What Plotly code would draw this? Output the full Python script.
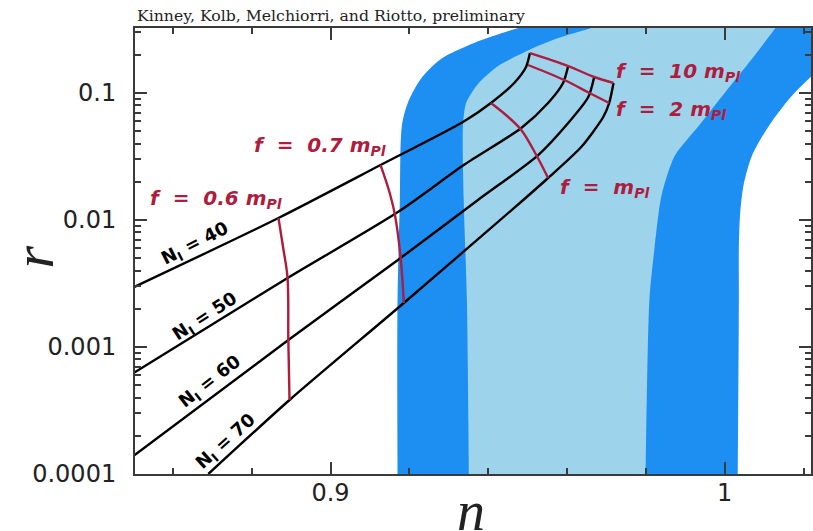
import plotly.graph_objects as go
import numpy as np

# ---------------- data ----------------
# 2-sigma (dark blue) allowed region boundary: left edge bottom->top, then right edge top->bottom
sig2_n = [0.9170, 0.9170, 0.9176, 0.9181, 0.9196, 0.9229, 0.9280, 0.9364, 0.9476, 0.9585,
          1.0374, 1.0298, 1.0229, 1.0170, 1.0112, 1.0069, 1.0048, 1.0039, 1.0036, 1.0036, 1.0033]
sig2_r = [0.00009, 0.00234, 0.01437, 0.0550, 0.0834, 0.1289, 0.1852, 0.2475, 0.3250, 0.40,
          0.40, 0.2182, 0.1437, 0.0947, 0.0550, 0.0319, 0.01886, 0.01095, 0.00602, 0.00234, 0.00009]
# 1-sigma (light blue) region boundary
sig1_n = [0.9351, 0.9346, 0.9338, 0.9336, 0.9344, 0.9374, 0.9425, 0.9509, 0.9578, 0.9662, 0.9751,
          1.0150, 1.0127, 1.0069, 1.0000, 0.9934, 0.9873, 0.9840, 0.9822, 0.9809, 0.9799]
sig1_r = [0.00009, 0.00234, 0.01437, 0.0550, 0.0834, 0.1177, 0.1632, 0.2221, 0.2711, 0.3250, 0.40,
          0.40, 0.3190, 0.1852, 0.1000, 0.0550, 0.0319, 0.01573, 0.00602, 0.00234, 0.00009]

# model trajectories for fixed number of e-folds N_I
N40_n = [0.8500, 0.8868, 0.9127, 0.9336, 0.9407, 0.9466, 0.9496, 0.9506]
N40_r = [0.00295, 0.01037, 0.02709, 0.0591, 0.08344, 0.1199, 0.1602, 0.2065]
N50_n = [0.8500, 0.8891, 0.9171, 0.9338, 0.9484, 0.9552, 0.9590, 0.9603]
N50_r = [0.000624, 0.003494, 0.01156, 0.02709, 0.0530, 0.08344, 0.1199, 0.1632]
N60_n = [0.8500, 0.8893, 0.9171, 0.9374, 0.9527, 0.9603, 0.9654, 0.9669]
N60_r = [0.0001386, 0.001135, 0.004842, 0.01437, 0.03249, 0.05805, 0.09301, 0.1337]
N70_n = [0.8690, 0.8896, 0.9186, 0.9489, 0.9552, 0.9636, 0.9692, 0.9707, 0.9718]
N70_r = [0.0001, 0.0003826, 0.002221, 0.01437, 0.02142, 0.03757, 0.06471, 0.08344, 0.1199]
N_labels = ["40", "50", "60", "70"]

# curves of fixed f
f06_n = [0.8868, 0.8880, 0.8891, 0.8893, 0.8896]
f06_r = [0.01037, 0.006018, 0.003494, 0.001135, 0.0003826]
f07_n = [0.9127, 0.9148, 0.9163, 0.9178, 0.9186]
f07_r = [0.02709, 0.01722, 0.01115, 0.005021, 0.002221]
f1_n = [0.9407, 0.9448, 0.9484, 0.9522, 0.9552]
f1_r = [0.08344, 0.0659, 0.05114, 0.03249, 0.02142]
f2_n = [0.9501, 0.9593, 0.9657, 0.9707]
f2_r = [0.1662, 0.1266, 0.1000, 0.08344]
f10_n = [0.9506, 0.9603, 0.9669, 0.9718]
f10_r = [0.2065, 0.1632, 0.1337, 0.1199]
f_labels = ["0.6 m", "0.7 m", "m", "2 m", "10 m"]

x_major = [0.9, 1.0]
x_major_text = ["0.9", "1"]
y_major = [0.0001, 0.001, 0.01, 0.1]
y_major_text = ["0.0001", "0.001", "0.01", "0.1"]

# ---------------- styling ----------------
DARK = "#1E8FF2"
LIGHT = "#9DD4EC"
RED = "#AE1C3E"
AX = "#3a3a3a"

fig = go.Figure()
fig.add_trace(go.Scatter(x=sig2_n, y=sig2_r, mode="lines", fill="toself", fillcolor=DARK,
                         line=dict(width=0, shape="spline", smoothing=0.8), hoverinfo="skip"))
fig.add_trace(go.Scatter(x=sig1_n, y=sig1_r, mode="lines", fill="toself", fillcolor=LIGHT,
                         line=dict(width=0, shape="spline", smoothing=0.7), hoverinfo="skip"))

for xs, ys in [(N40_n, N40_r), (N50_n, N50_r), (N60_n, N60_r), (N70_n, N70_r)]:
    fig.add_trace(go.Scatter(x=xs, y=ys, mode="lines",
                             line=dict(color="black", width=2.4, shape="spline", smoothing=0.7)))
for xs, ys in [(f06_n, f06_r), (f07_n, f07_r), (f1_n, f1_r), (f2_n, f2_r), (f10_n, f10_r)]:
    fig.add_trace(go.Scatter(x=xs, y=ys, mode="lines",
                             line=dict(color=RED, width=2.4, shape="spline", smoothing=1.0)))

# N_I labels (center positions in n, log10 r) and rotation
N_pos = [(0.8657, -2.189, -27), (0.8682, -2.764, -33), (0.8695, -3.276, -38), (0.8735, -3.748, -42)]
for lab, (xx, yy, ang) in zip(N_labels, N_pos):
    fig.add_annotation(x=xx, y=yy, xref="x", yref="y", showarrow=False, textangle=ang,
                       text="<b>N<sub>I</sub> = %s</b>" % lab,
                       font=dict(family="DejaVu Sans", size=18, color="black"),
                       xanchor="center", yanchor="middle")

f_pos = [(0.8537, -1.835), (0.8802, -1.421), (0.9578, -1.748), (0.9718, -1.134), (0.9718, -0.835)]
for lab, (xx, yy) in zip(f_labels, f_pos):
    fig.add_annotation(x=xx, y=yy, xref="x", yref="y", showarrow=False,
                       text="<b><i>f&nbsp; =&nbsp; %s<sub>Pl</sub></i></b>" % lab,
                       font=dict(family="DejaVu Sans", size=20, color=RED),
                       xanchor="left", yanchor="middle")

fig.add_annotation(x=0, y=1, xref="paper", yref="paper", yshift=1, showarrow=False,
                   text="Kinney, Kolb, Melchiorri, and Riotto, preliminary",
                   font=dict(family="DejaVu Serif", size=15.7, color="#222"),
                   xanchor="left", yanchor="bottom")
fig.add_annotation(x=-0.150, y=0.487, xref="paper", yref="paper", showarrow=False, textangle=-90,
                   text="<i>r</i>", font=dict(family="Liberation Serif", size=58, color="#222"),
                   xanchor="center", yanchor="middle")
fig.add_annotation(x=0.497, y=-0.083, xref="paper", yref="paper", showarrow=False,
                   text="<i>n</i>", font=dict(family="Liberation Serif", size=56, color="#222"),
                   xanchor="center", yanchor="middle")

fig.update_layout(
    width=813, height=531, margin=dict(l=135, r=0, t=28, b=57),
    paper_bgcolor="white", plot_bgcolor="white", showlegend=False,
    xaxis=dict(range=[0.8504, 1.0219], tickmode="array", tickvals=x_major, ticktext=x_major_text,
               ticks="inside", ticklen=12, tickwidth=1.5, tickcolor=AX,
               minor=dict(dtick=0.02, tick0=0.86, ticks="inside", ticklen=6, tickwidth=1.5, tickcolor=AX),
               showline=True, linecolor=AX, linewidth=2, mirror="allticks", showgrid=False, zeroline=False,
               tickfont=dict(family="DejaVu Sans", size=24, color="#222"), ticklabelstandoff=-4),
    yaxis=dict(type="log", range=[-4, -0.488], tickmode="array", tickvals=y_major, ticktext=y_major_text,
               ticks="inside", ticklen=12, tickwidth=1.5, tickcolor=AX,
               minor=dict(dtick="D1", ticks="inside", ticklen=6, tickwidth=1.5, tickcolor=AX, showgrid=False),
               showline=True, linecolor=AX, linewidth=2, mirror="allticks", showgrid=False, zeroline=False,
               tickfont=dict(family="DejaVu Sans", size=24, color="#222"), ticklabelstandoff=12),
)

fig.write_html("out.html", config={"displayModeBar": False},
               post_script="document.body.style.margin='0';document.body.style.overflow='hidden';")
